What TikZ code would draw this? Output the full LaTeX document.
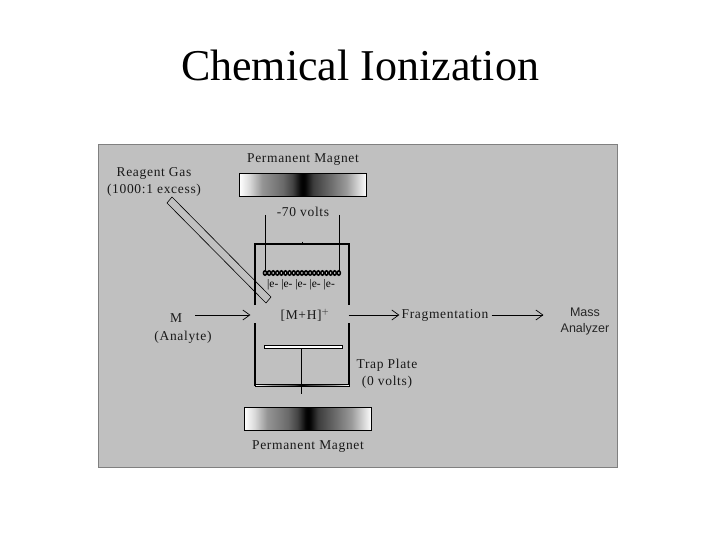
\documentclass[tikz,border=0pt]{standalone}
\usepackage{fontspec}
\setmainfont{Liberation Serif}
\newfontfamily\labelfont[LetterSpace=5]{Liberation Serif}
\newfontfamily\massfont{Liberation Sans}
\usetikzlibrary{arrows.meta,positioning}
\definecolor{panelgray}{HTML}{C0C0C0}
\definecolor{rimgray}{HTML}{808080}
\pgfdeclarehorizontalshading{magnetgray}{100bp}{
  color(0bp)=(white); color(25bp)=(white); color(29bp)=(black!15);
  color(34bp)=(black!42); color(42bp)=(black!58); color(46bp)=(black!74);
  color(49bp)=(black!97); color(50bp)=(black); color(51bp)=(black!97); color(54bp)=(black!76);
  color(60bp)=(black!60); color(67bp)=(black!40); color(72bp)=(black!15); color(75bp)=(white); color(100bp)=(white)}

\begin{document}
\begin{tikzpicture}[x=1pt, y=-1pt,
  lbl/.style={font=\fontsize{13.5}{17.5}\labelfont, align=center, inner sep=0pt, text=black!90},
  magnet/.style={draw, line width=1pt, shading=magnetgray, minimum width=127pt, minimum height=23pt, inner sep=0pt},
  wall/.style={line width=1.6pt},
  lead/.style={line width=0.7pt},
  rel/.style={-{Straight Barb[length=7pt,width=10pt]}, line width=0.7pt}
]
\useasboundingbox (0,0) rectangle (720,540);
\fill[white] (0,0) rectangle (720,540);
\draw[fill=panelgray, draw=rimgray, line width=1.5pt] (98.5,144.5) rectangle (617.5,467.5);

\node[font=\fontsize{44}{50}\selectfont, inner sep=0pt] (title) at (360,65) {Chemical Ionization};

% magnets
\node[magnet] (topmagnet) at (303,185) {};
\node[magnet] (botmagnet) at (308,419) {};
\node[lbl, above=7pt of topmagnet] (toplabel) {Permanent Magnet};
\node[lbl, below=9pt of botmagnet] (botlabel) {Permanent Magnet};

% source block
\draw[wall] (255,305) |- (349,244) -- (349,305);
\draw[wall] (255,323) -- (255,385) -- (349,385) -- (349,323);
\draw[line width=0.8pt] (302,241.5) -- (302,244);

% reagent tube
\draw[line width=0.6pt] (167,203) -- (172,197) -- (271,297) -- (266,303) -- cycle;
\node[lbl] (reagent) at (154,182) {Reagent Gas\\(1000:1 excess)};

% filament
\node[lbl, below=10pt of topmagnet] (volts) {-70 volts};
\coordinate (leftlead) at (265,215);
\coordinate (rightlead) at (339,215);
\coordinate (leftcoil) at (265,271);
\coordinate (rightcoil) at (339,271);
\draw[lead] (leftlead) -- (leftcoil);
\draw[lead] (rightlead) -- (rightcoil);
\foreach \i in {0,...,18}
  \draw[line width=1.5pt] (265+\i*4.1,273) ellipse (1.6 and 2.2);
\node[font=\fontsize{11.5}{13}\selectfont, inner sep=0pt] (electrons) at (301,285) {|e- |e- |e- |e- |e-};

% trap plate
\node[draw, line width=0.9pt, fill=white, minimum width=78pt, minimum height=2.5pt, inner sep=0pt] (plate) at (303,347) {};
\coordinate (stemend) at (301,394);
\draw[lead] (301,348.5) -- (stemend);
\draw[black, line width=0.8pt, shading=magnetgray] (255,384.5) rectangle (349,386.5);
\node[lbl] (trap) at (387,374) {Trap Plate\\(0 volts)};

% ion path
\node[lbl, inner sep=0pt] (analyte) at (176,318) {M};
\node[lbl] (analytetag) at (183,337) {(Analyte)};
\node[lbl] (ion) at (305,315) {[M+H]$^{+}$};
\node[lbl] (frag) at (445,315) {Fragmentation};
\node[font=\fontsize{12.5}{16}\massfont, align=center, inner sep=0pt, text=black!85] (mass) at (585,321) {Mass\\Analyzer};

\draw[rel, shorten <=13pt, shorten >=30pt] (analyte.east |- ion.west) -- (ion.west);
\draw[rel, shorten <=19pt, shorten >=2pt] (ion.east) -- (frag.west);
\draw[rel, shorten <=3pt, shorten >=17pt] (frag.east) -- (frag.east -| mass.west);
\end{tikzpicture}
\end{document}
